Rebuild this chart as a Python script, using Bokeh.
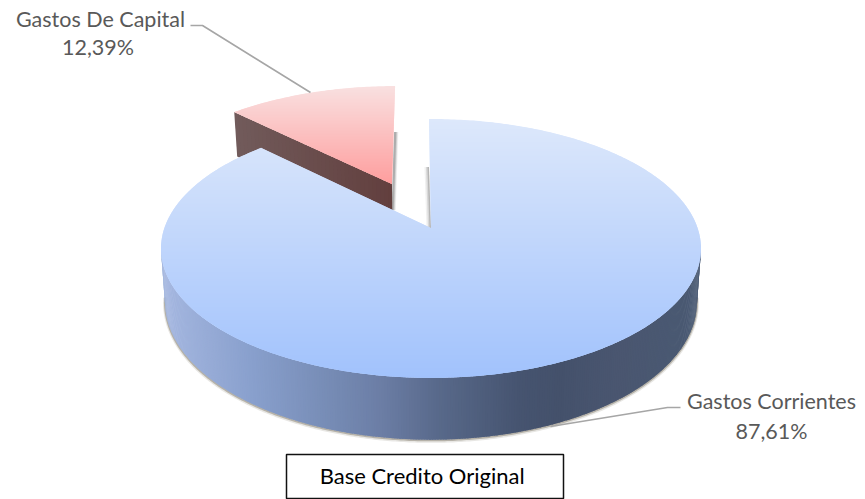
import math
from bokeh.plotting import figure
from bokeh.models import Range1d
from bokeh.core.properties import value
from bokeh.embed import file_html
from bokeh.resources import INLINE

# ---- data ----
categories = ["Gastos Corrientes", "Gastos De Capital"]
shares = [87.61, 12.39]
caption = "Base  Credito Original"

# ---- layout (page pixels of the 865x499 window) ----
W, H = 865, 499
CX, CY, A, B, K, D, E = 430.5, 227.5, 266.6, 126.2, 0.158, 52.0, 0.015
ROT = -0.5
EXPLODE = 0.40
STEPS = 1.0


def proj(u, v, z=0.0):
    s = 1.0 / (1.0 + K * v)
    return (CX + A * u * s * (1 - E * z), CY - B * v * s + D * z * s)


def rim(theta_deg, u0=0.0, v0=0.0, z=0.0):
    t = math.radians(theta_deg)
    return proj(u0 + math.sin(t), v0 + math.cos(t), z)


def lerp_stops(stops, x):
    if x <= stops[0][0]:
        return stops[0][1]
    for (x0, c0), (x1, c1) in zip(stops, stops[1:]):
        if x <= x1:
            f = (x - x0) / (x1 - x0)
            return tuple(round(a + (b - a) * f) for a, b in zip(c0, c1))
    return stops[-1][1]


def hexc(c):
    return "#%02x%02x%02x" % tuple(c)


def clip(poly, y, keep_below):
    out = []
    n = len(poly)
    for i in range(n):
        a, b = poly[i], poly[(i + 1) % n]
        ina = a[1] >= y if keep_below else a[1] <= y
        inb = b[1] >= y if keep_below else b[1] <= y
        if ina:
            out.append(a)
        if ina != inb:
            f = (y - a[1]) / (b[1] - a[1])
            out.append((a[0] + (b[0] - a[0]) * f, y))
    return out


def bands(poly, stops):
    xs, ys, cs = [], [], []
    lo = min(q[1] for q in poly)
    hi = max(q[1] for q in poly)
    y = lo
    while y < hi:
        part = clip(clip(poly, y, True), y + STEPS + 0.8, False)
        if len(part) > 2:
            xs.append([q[0] for q in part])
            ys.append([q[1] for q in part])
            cs.append(hexc(lerp_stops(stops, y + STEPS / 2)))
        y += STEPS
    return xs, ys, cs


p = figure(width=W, height=H, output_backend="svg", toolbar_location=None,
           x_range=Range1d(0, W), y_range=Range1d(H, 0),
           min_border=0, outline_line_color=None)
p.axis.visible = False
p.grid.visible = False
p.background_fill_color = "#ffffff"
p.border_fill_color = "#ffffff"

blue_span = shares[0] / sum(shares) * 360.0
red_span = shares[1] / sum(shares) * 360.0
blue_start, blue_end = ROT, ROT + blue_span
red_start, red_end = blue_end, blue_end + red_span
mid = math.radians((red_start + red_end) / 2)
u0, v0 = EXPLODE * math.sin(mid), EXPLODE * math.cos(mid)

# ---- exploded slice: wall, shadow strip, top ----
RED_WALL = [(230, (114, 92, 92)), (392, (98, 63, 62))]
RED_TOP = [(86, (249, 224, 224)), (183, (254, 158, 158))]
ang = [red_start + red_span * i / 60 for i in range(61)]

apex_t, apex_b = proj(u0, v0), proj(u0, v0, 1)
right_t = rim(red_end, u0, v0)
# soft shadow at the right-hand cut of the slice
for off, al in ((3.2, 0.12), (2.2, 0.25), (1.2, 0.4)):
    p.patch([apex_b[0] - 1, apex_b[0] + off, right_t[0] + off, right_t[0] - 1],
            [apex_b[1] - 23, apex_b[1] - 23, right_t[1] + 46, right_t[1] + 46],
            fill_color="#777777", fill_alpha=al, line_color=None)

left_t, left_b = rim(red_start, u0, v0), rim(red_start, u0, v0, 1)
n = 40
wx, wy, wc = [], [], []
for i in range(n):
    f0, f1 = i / n, min(1.0, (i + 1.4) / n)
    q = [(left_t[0] + (apex_t[0] - left_t[0]) * f, left_t[1] + (apex_t[1] - left_t[1]) * f) for f in (f0, f1)]
    r = [(left_b[0] + (apex_b[0] - left_b[0]) * f, left_b[1] + (apex_b[1] - left_b[1]) * f) for f in (f1, f0)]
    pts = q + r
    wx.append([a for a, _ in pts])
    wy.append([b for _, b in pts])
    wc.append(hexc(lerp_stops(RED_WALL, (q[0][0] + q[1][0]) / 2)))
p.patches(wx, wy, fill_color=wc, line_color=None)

red_poly = [apex_t] + [rim(a, u0, v0) for a in ang]
xs, ys, cs = bands(red_poly, RED_TOP)
p.patches(xs, ys, fill_color=cs, line_color=None)

# ---- main slice: ground shadow, outer wall, top ----
SHADOW = "#8d8778"
front = [97 + i * 0.5 for i in range(int(166 / 0.5) + 1)]
bot = [rim(a, z=1) for a in front]
p.line([q[0] for q in bot], [q[1] + 1.2 for q in bot], line_color=SHADOW, line_width=4, line_alpha=0.2)
p.line([q[0] for q in bot], [q[1] + 0.6 for q in bot], line_color=SHADOW, line_width=2.2, line_alpha=0.55)

WALL = [(162, (165, 183, 224)), (250, (137, 160, 205)), (340, (116, 137, 178)),
        (380, (108, 126, 166)), (440, (88, 105, 138)), (520, (70, 84, 112)),
        (560, (68, 81, 107)), (620, (74, 86, 112)), (701, (74, 90, 115))]
wx, wy, wc = [], [], []
for a0, a1 in zip(front, front[1:]):
    a2 = a1 + 0.4
    pts = [rim(a0), rim(a2), rim(a2, z=1), rim(a0, z=1)]
    wx.append([q[0] for q in pts])
    wy.append([q[1] for q in pts])
    wc.append(hexc(lerp_stops(WALL, rim(a0)[0])))
p.patches(wx, wy, fill_color=wc, line_color=None)

# soft shadow at the left of the vertical cut of the main slice
top_pt = rim(blue_start)
for off, al in ((4.5, 0.1), (3, 0.2), (1.5, 0.35)):
    p.patch([top_pt[0] - off, top_pt[0], top_pt[0] + 2, top_pt[0] - off + 2],
            [top_pt[1] + 48, top_pt[1] + 48, CY, CY],
            fill_color="#777777", fill_alpha=al, line_color=None)

BLUE_TOP = [(118, (221, 232, 251)), (378, (161, 194, 252))]
ang = [blue_start + blue_span * i / 400 for i in range(401)]
blue_poly = [proj(0, 0)] + [rim(a) for a in ang]
xs, ys, cs = bands(blue_poly, BLUE_TOP)
p.patches(xs, ys, fill_color=cs, line_color=None)

# ---- leader lines ----
LEADER = "#a6a6a6"
p.line([190, 202, 310], [25, 25, 92], line_color=LEADER, line_width=1.6)
p.line([680, 667, 550], [407, 407, 426], line_color=LEADER, line_width=1.6)

# ---- labels ----
def pct(v):
    return ("%.2f" % v).replace(".", ",") + "%"


p.text(x=[100, 97.5, 771, 771], y=[18, 46, 400, 430],
       text=[categories[1], pct(shares[1]), categories[0], pct(shares[0])],
       text_font=value("Lato"), text_font_size="21.5px", text_color="#595959",
       text_align="center", text_baseline="middle")

# ---- caption box ----
p.quad(left=[286], right=[563], top=[454], bottom=[498],
       fill_color="#ffffff", line_color="#111111", line_width=1.5)
p.text(x=[424.5], y=[475], text=[caption], text_font=value("Lato"), text_font_size="22px",
       text_color="#000000", text_align="center", text_baseline="middle")

open("out.html", "w").write(file_html(p, INLINE))
